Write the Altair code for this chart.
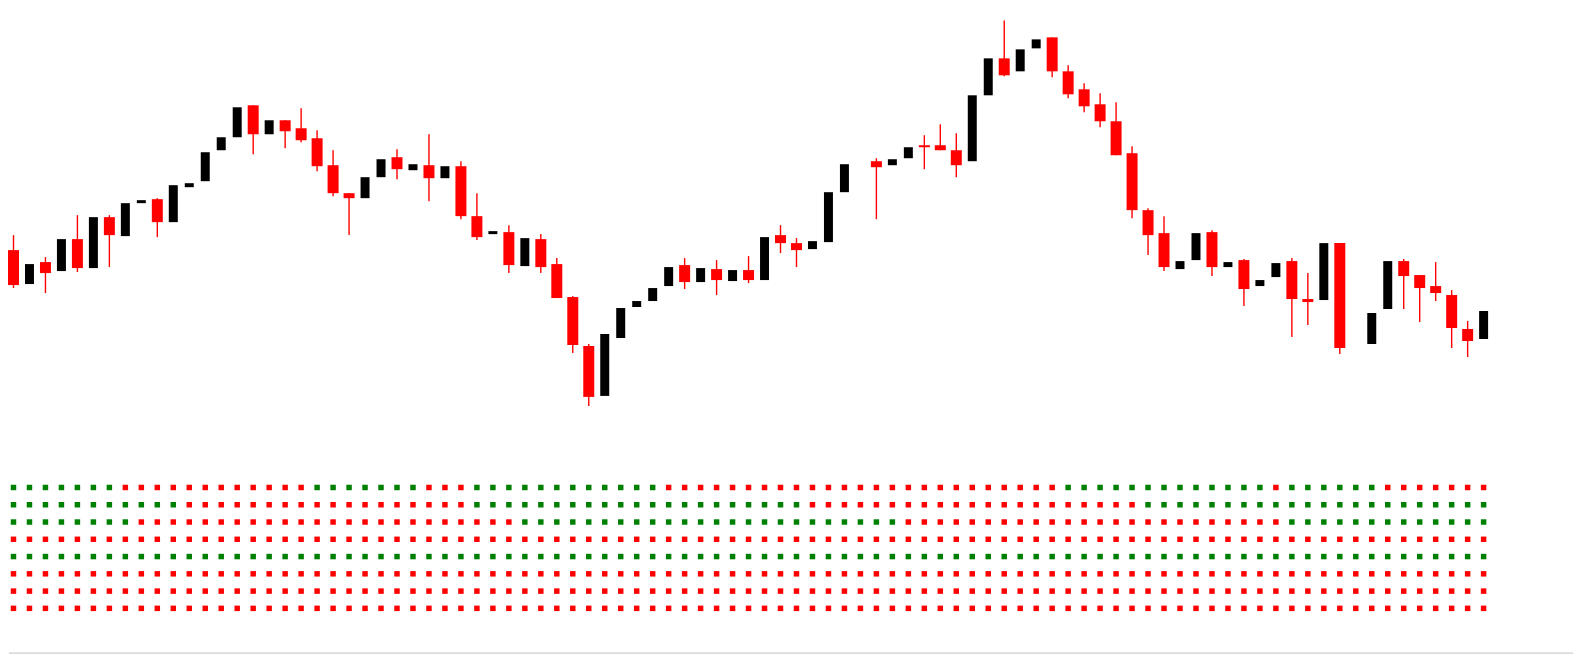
import altair as alt
import pandas as pd

# ---- candle data (one entry per bar, None = no bar drawn) ----
opens = [1.0970, 1.0936, 1.0958, 1.0949, 1.0981, 1.0952, 1.1003, 1.0984, 1.1017, 1.1021,
         1.0998, 1.1033, 1.1039, 1.1070, 1.1083, 1.1115, 1.1086, 1.1100, 1.1092, 1.1082,
         1.1055, 1.1027, 1.1022, 1.1043, 1.1063, 1.1050, 1.1055, 1.1042, 1.1054, 1.1004,
         1.0986, 1.0988, 1.0954, 1.0981, 1.0956, 1.0923, 1.0874, 1.0824, 1.0882, 1.0913,
         1.0919, 1.0934, 1.0955, 1.0938, 1.0951, 1.0939, 1.0950, 1.0940, 1.0985, 1.0977,
         1.0971, 1.0978, 1.1028, None, 1.1059, 1.1055, 1.1062, 1.1075, 1.1075, 1.1070,
         1.1059, 1.1125, 1.1162, 1.1149, 1.1172, 1.1183, 1.1149, 1.1131, 1.1116, 1.1099,
         1.1067, 1.1010, 1.0987, 1.0951, 1.0960, 1.0988, 1.0953, 1.0960, 1.0934, 1.0943,
         1.0959, 1.0921, 1.0920, 1.0977, None, 1.0876, 1.0911, 1.0959, 1.0945, 1.0934,
         1.0925, 1.0891, 1.0881]
highs = [1.0985, 1.0956, 1.0963, 1.0981, 1.1005, 1.1003, 1.1005, 1.1017, 1.1020, 1.1022,
         1.1035, 1.1037, 1.1068, 1.1083, 1.1113, 1.1115, 1.1100, 1.1100, 1.1112, 1.1090,
         1.1070, 1.1027, 1.1043, 1.1061, 1.1071, 1.1056, 1.1086, 1.1054, 1.1059, 1.1027,
         1.0989, 1.0995, 1.0982, 1.0986, 1.0962, 1.0924, 1.0876, 1.0886, 1.0912, 1.0919,
         1.0932, 1.0953, 1.0962, 1.0952, 1.0960, 1.0950, 1.0964, 1.0983, 1.0995, 1.0982,
         1.0979, 1.1028, 1.1056, None, 1.1062, 1.1061, 1.1073, 1.1085, 1.1096, 1.1087,
         1.1125, 1.1162, 1.1200, 1.1171, 1.1181, 1.1183, 1.1155, 1.1137, 1.1127, 1.1118,
         1.1074, 1.1012, 1.1004, 1.0959, 1.0987, 1.0990, 1.0958, 1.0961, 1.0940, 1.0957,
         1.0962, 1.0947, 1.0977, 1.0977, None, 1.0907, 1.0959, 1.0961, 1.0945, 1.0958,
         1.0930, 1.0899, 1.0909]
lows = [1.0932, 1.0936, 1.0927, 1.0949, 1.0948, 1.0952, 1.0953, 1.0984, 1.1017, 1.0983,
        1.0998, 1.1033, 1.1039, 1.1070, 1.1083, 1.1066, 1.1086, 1.1072, 1.1078, 1.1049,
        1.1024, 1.0985, 1.1022, 1.1043, 1.1041, 1.1050, 1.1019, 1.1042, 1.1001, 1.0980,
        1.0986, 1.0947, 1.0954, 1.0947, 1.0922, 1.0867, 1.0814, 1.0824, 1.0882, 1.0913,
        1.0919, 1.0934, 1.0931, 1.0938, 1.0925, 1.0939, 1.0937, 1.0940, 1.0967, 1.0953,
        1.0971, 1.0978, 1.1028, None, 1.1001, 1.1055, 1.1062, 1.1051, 1.1070, 1.1043,
        1.1059, 1.1125, 1.1144, 1.1149, 1.1172, 1.1143, 1.1122, 1.1108, 1.1093, 1.1065,
        1.1002, 1.0965, 1.0949, 1.0951, 1.0960, 1.0944, 1.0953, 1.0914, 1.0934, 1.0943,
        1.0883, 1.0895, 1.0920, 1.0866, None, 1.0876, 1.0911, 1.0911, 1.0898, 1.0919,
        1.0872, 1.0863, 1.0881]
closes = [1.0935, 1.0956, 1.0947, 1.0981, 1.0952, 1.1003, 1.0985, 1.1017, 1.1020, 1.0998,
          1.1035, 1.1037, 1.1068, 1.1083, 1.1113, 1.1086, 1.1100, 1.1089, 1.1080, 1.1054,
          1.1027, 1.1022, 1.1043, 1.1061, 1.1051, 1.1056, 1.1042, 1.1054, 1.1004, 1.0983,
          1.0989, 1.0955, 1.0982, 1.0953, 1.0922, 1.0875, 1.0823, 1.0886, 1.0912, 1.0919,
          1.0932, 1.0953, 1.0938, 1.0952, 1.0940, 1.0950, 1.0940, 1.0983, 1.0977, 1.0970,
          1.0979, 1.1028, 1.1056, None, 1.1053, 1.1061, 1.1073, 1.1073, 1.1070, 1.1055,
          1.1125, 1.1162, 1.1145, 1.1171, 1.1181, 1.1149, 1.1126, 1.1114, 1.1099, 1.1065,
          1.1010, 1.0985, 1.0953, 1.0959, 1.0987, 1.0953, 1.0958, 1.0931, 1.0940, 1.0957,
          1.0921, 1.0918, 1.0977, 1.0872, None, 1.0907, 1.0959, 1.0944, 1.0932, 1.0927,
          1.0892, 1.0879, 1.0909]

# ---- signal matrix (8 rows, run-length: (colour, count)) ----
row0 = [("G", 7), ("R", 12), ("G", 7), ("R", 3), ("G", 12), ("R", 25), ("G", 13), ("R", 1), ("G", 6), ("R", 7)]
row1 = [("G", 11), ("R", 18), ("G", 21), ("R", 21), ("G", 22)]
row2 = [("G", 8), ("R", 24), ("G", 24), ("R", 24), ("G", 13)]
row3 = [("R", 93)]
row4 = [("G", 93)]
row5 = [("R", 93)]
row6 = [("R", 93)]
row7 = [("R", 93)]
signal_rows = [row0, row1, row2, row3, row4, row5, row6, row7]

candles = pd.DataFrame({"i": list(range(len(opens))), "open": opens, "high": highs,
                        "low": lows, "close": closes}).dropna()

dot_records = []
for r, runs in enumerate(signal_rows):
    col = 0
    for c, n in runs:
        for _ in range(n):
            dot_records.append({"i": col, "row": r, "sig": c})
            col += 1
dots_df = pd.DataFrame(dot_records)

W, H = 1566, 646
xs = alt.Scale(domain=[-0.28125, 97.59375], nice=False, zero=False, padding=0)
ys = alt.Scale(domain=[1.0566, 1.1212], nice=False, zero=False, padding=0)
xenc = alt.X("i:Q", scale=xs, axis=None)

down = alt.Chart(candles).transform_filter("datum.close < datum.open")
up = alt.Chart(candles).transform_filter("datum.close >= datum.open")

wicks = down.mark_rule(color="#ff0000", strokeWidth=1.4).encode(
    x=xenc, y=alt.Y("low:Q", scale=ys, axis=None), y2="high:Q")
red_bodies = down.mark_bar(color="#ff0000", size=11).encode(
    x=xenc, y=alt.Y("open:Q", scale=ys, axis=None), y2="close:Q")
black_bodies = up.mark_bar(color="#000000", size=9).encode(
    x=xenc, y=alt.Y("open:Q", scale=ys, axis=None), y2="close:Q")

dots = alt.Chart(dots_df).mark_square(size=30, opacity=1, filled=True).encode(
    x=xenc,
    y=alt.Y("row:Q", scale=alt.Scale(domain=[-27.744, 9.619], reverse=True, nice=False, zero=False, padding=0), axis=None),
    color=alt.Color("sig:N", scale=alt.Scale(domain=["G", "R"], range=["#008000", "#ff0000"]), legend=None),
)

border = alt.Chart(pd.DataFrame({"a": [0]})).mark_rule(color="#c0c0c0", strokeWidth=1).encode(
    x=alt.value(0), x2=alt.value(W), y=alt.value(H - 0.5))

chart = alt.layer(wicks, red_bodies, black_bodies, dots, border).resolve_scale(
    y="independent"
).properties(width=W, height=H, padding=0, background="white").configure_view(stroke=None)

chart.save("out.html", embed_options={"renderer": "svg", "actions": False})
